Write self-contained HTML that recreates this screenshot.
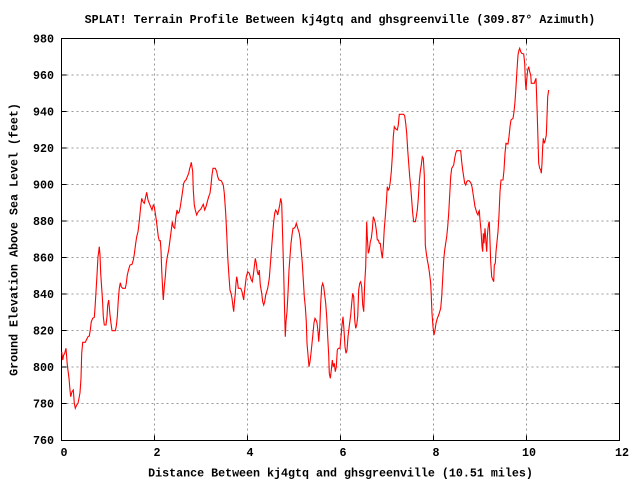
<!DOCTYPE html>
<html><head><meta charset="utf-8"><style>
html,body{margin:0;padding:0;background:#fff;}
svg{display:block;}
text{font-family:"Liberation Mono",monospace;font-weight:bold;font-size:11.67px;fill:#000;}
</style></head><body>
<svg width="640" height="480" viewBox="0 0 640 480" xmlns="http://www.w3.org/2000/svg">
<rect width="640" height="480" fill="#fff"/>
<g stroke="#999" stroke-width="1" stroke-dasharray="2,3" shape-rendering="crispEdges">
<line x1="61.5" y1="75" x2="619.5" y2="75"/>
<line x1="61.5" y1="111.5" x2="619.5" y2="111.5"/>
<line x1="61.5" y1="148" x2="619.5" y2="148"/>
<line x1="61.5" y1="184.5" x2="619.5" y2="184.5"/>
<line x1="61.5" y1="221" x2="619.5" y2="221"/>
<line x1="61.5" y1="257.5" x2="619.5" y2="257.5"/>
<line x1="61.5" y1="294" x2="619.5" y2="294"/>
<line x1="61.5" y1="330.5" x2="619.5" y2="330.5"/>
<line x1="61.5" y1="367" x2="619.5" y2="367"/>
<line x1="61.5" y1="403.5" x2="619.5" y2="403.5"/>
<line x1="154.5" y1="38.5" x2="154.5" y2="440.5"/>
<line x1="247.5" y1="38.5" x2="247.5" y2="440.5"/>
<line x1="340.5" y1="38.5" x2="340.5" y2="440.5"/>
<line x1="433.5" y1="38.5" x2="433.5" y2="440.5"/>
<line x1="526.5" y1="38.5" x2="526.5" y2="440.5"/>
</g>
<g stroke="#000" stroke-width="1" shape-rendering="crispEdges">
<path d="M61.5 75h5M61.5 111.5h5M61.5 148h5M61.5 184.5h5M61.5 221h5M61.5 257.5h5M61.5 294h5M61.5 330.5h5M61.5 367h5M61.5 403.5h5"/>
<path d="M619.5 75h-5M619.5 111.5h-5M619.5 148h-5M619.5 184.5h-5M619.5 221h-5M619.5 257.5h-5M619.5 294h-5M619.5 330.5h-5M619.5 367h-5M619.5 403.5h-5"/>
<path d="M154.5 38.5v5M247.5 38.5v5M340.5 38.5v5M433.5 38.5v5M526.5 38.5v5"/>
<path d="M154.5 440.5v-5M247.5 440.5v-5M340.5 440.5v-5M433.5 440.5v-5M526.5 440.5v-5"/>
<rect x="61.5" y="38.5" width="558" height="402" fill="none"/>
</g>
<polyline fill="none" stroke="#ff0000" stroke-width="1.1" stroke-linejoin="miter" points="
61.7,351.7 62.7,360 63.7,355 64.7,353.3 66,348.3 67.3,365 69,378.3 70,390 70.7,396.7 72,391.7 73.3,390 74.3,403.3 75.3,408.3 76.7,405 78,403.3 79,398.3 80,392.7 81,378.3 81.7,353.3 82.7,342.3 85.3,342.3 86.7,339.3 88,336.7 89.3,336 90.3,330 91.3,321.7 92.7,318.3 94.3,317.3 95,308.3 96,291.7 97,275 98,256.7 98.7,251.7 99.3,246.7 100,255 100.7,273.3 101.7,288.3 102.7,303.3 103.3,316.7 104.3,325 106,325 107,316.7 107.7,305 108.7,300 110,315 111,323.3 112,330.7 115.3,330.7 116.3,326 117.3,316.7 118.3,300 119.3,288.3 120.3,282.7 121.3,286.7 122.7,288.3 125.3,288.3 126.3,283.3 127.3,275 128.7,269.3 130,265 132,264.3 133.3,260 134.3,254.3 135.7,243.3 136.7,236.7 138,231.7 139.3,221 140.7,206.7 141.7,198.3 143,201.7 144.3,203.3 145.7,196.7 146.7,192.3 148,200 149.3,203.3 150.7,206.7 152,210 153.3,205 154.3,206.7 155.3,213.3 156.3,220 157.3,228.3 158.3,236.7 159.3,240.7 160.3,240.7 161,250 161.7,270 162.7,290 163.3,300 164.3,286.7 165.3,276.7 166.3,263.3 167.3,256.7 168.7,250 170,240 171.3,230 172.3,221.7 173.3,226.7 174.7,228.3 175.7,218.3 177,210 178,213.3 179.3,211.7 180.3,206.7 181.3,200 182.3,193.3 183.7,183.3 185,180.7 186,180 187.3,176.7 188.7,173.3 189.7,168.3 190.3,166.7 191.3,162.3 192.7,171.7 193.3,190 194.3,205 195.3,210 196.7,215 197.7,212.7 199,210.7 200.7,209.3 202,206.7 203.3,204.3 204.7,210 206,206.7 207.3,201.7 208.7,196.7 210,193.3 211,185 212,175 213,168.3 215.3,168.3 216.7,171.7 217.7,176.7 219,180 221.3,180.7 223.3,185 224.3,193.3 225.7,213.3 226.7,233.3 227.7,256.7 229,276.7 230,290 231,293.3 232,298.3 233,306.7 233.7,311.7 234.3,303.3 235.3,293.3 236,283.3 236.7,276.7 237.3,280 238.3,288.3 240.7,288.3 242,291.7 243,296.7 243.7,300 244.3,293.3 245.3,285 246.3,276.7 247.7,271.7 249.3,273.3
250.3,276.7 251.3,280 252.3,281.7 253.3,275 254.3,266.7 255.3,258.3 256.3,263.3 257.3,271.7 258.3,275 259.3,270 260.3,285 261.7,293.3 262.7,301.7 263.7,305 264.7,301.7 265.7,295 266.7,291.7 267.7,288.3 269.3,278.3 270.7,260 271.7,246.7 272.7,233.3 273.7,221.7 274.7,213.3 275.7,210 276.7,211.7 277.7,215 278.7,210 279.7,205 280.7,198.3 281.7,203.3 282.7,238.3 283.7,273.3 284.7,315 285.3,336.7 286,321.7 287,311.7 288,293.3 289,270 290,256.7 291,243.3 292,235 293,228.3 294,228.3 295.3,226.7 296.3,223.3 297.3,226.7 298.3,230 299.3,233.3 300.3,240 301.3,251.7 302.3,263.3 303.3,280 304.3,296.7 305.3,306.7 306.3,321.7 307,343.3 308,355 309,366.7 310,361.7 311,353.3 312,343.3 313,333.3 314,322.7 315,318.3 316,320 317,322.7 318,331.7 318.7,341.7 319.7,328.3 320.7,303.3 321.7,286.7 322.7,283.3 323.7,286.7 324.7,295 325.7,303.3 326.7,316.7 327.7,336.7 328.7,355 329.3,373.3 330.3,378.3 331.3,370 332.3,360 333.3,366.7 334.3,363.3 335.3,371.7 336.3,366.7 337.3,350 338.3,348.3 340,348.3 341,336.7 342,325 343,316.7 344,330 345,346.7 346,353.3 347,350 348,336.7 349,328.3 350.7,315 351.7,303.3 352.7,293.3 353.7,296.7 354.7,320 355.7,328.3 356.7,325 357.7,316.7 358.7,290 359.7,283.3 360.7,281.7 361.7,286.7 362.7,305 363.7,311.7 364.7,283.3 365.7,266.7 366.7,221.7 367.3,236.7 368.3,253.3 369.3,250 370.3,241.7 371.3,238.3 372.3,230 373.3,216.7 374.3,219.3 375.3,223.3 376.3,230 377.3,240 378.3,240 379.3,243.3 380.3,243.3 381.3,251.7 382.3,258.3 383.3,246.7 384.3,228.3 385.3,216.7 386.3,203.3 387.3,186.7 388.3,190 389.3,188.3 390.3,181.7 391.3,171.7 392.3,156.7 393.3,136.7 394.3,126.7 395.3,128.3 396.3,129.3 397.3,130 398.3,125 399.3,114.3 403.7,114.3 404.7,116 405.7,123.3 406.7,133.3 407.7,150 408.7,163.3 409.7,176.7 410.7,186.7 411.7,200 412.7,213.3 413.7,221.7 415.3,221.7 416.3,216.7 417.3,210 418.3,198.3 419.3,181.7 420.3,171.7 421.3,165 422.3,156.7 423.3,158.3 424.3,175 425.3,245 426.3,253.3 427.3,260 428.3,265 429.3,271.7
430.7,283.3 431.3,296.7 432,313.3 433,326.7 434,335 435,330 436,323.3 437.3,318.3 438.7,315 439.7,311.7 440.7,308.3 441.7,296.7 442.7,278.3 443.7,260 444.7,250 445.7,243.3 446.7,236.7 447.7,226.7 448.7,213.3 449.7,195 450.7,176.7 451.7,168.3 452.7,166.7 453.7,165 454.7,158.3 455.7,153.3 456.7,150.7 460.7,150.7 461.7,161.7 462.7,170 463.7,176.7 464.7,183.3 465.7,185 466.7,181.7 467.7,180.7 469,180.7 470,181.7 471,183.3 472,186.7 473,193.3 474,200 475,206.7 476,210 477,213.3 478,215 478.7,211.7 479.3,210.7 480,220 481,230 482,246.7 482.7,251.7 483.3,233.3 484,243.3 485,228.3 486,243.3 486.7,251.7 487.3,236.7 488,228.3 488.7,223.3 489.3,221.7 490,241.7 490.7,261.7 491.7,276.7 492.3,278.3 493,280 493.7,281.7 494.3,265 495.3,263.3 496,251.7 497,241.7 498,231.7 499,215 500,191.7 501,180 503,180 504,170 505,153.3 506,143.3 508,144 509,136.7 510,126.7 511,120 513,118.3 514,111.7 515,101.7 516,86.7 517,70 518,55 519,50 519.7,48.3 520.7,51.7 521.7,53.3 523.7,54 524.7,63.3 525.3,80 526,90 526.7,80 527.7,70 528.7,66.7 529.7,71.7 530.7,75 531.3,83.3 534.3,83.3 535.3,80 536,78.3 536.7,98.3 537.3,116.7 538,140 538.7,163.3 539.7,168.3 540.7,170 541.3,173.3 542,163.3 542.7,146.7 543.3,138.3 544.3,143.3 545.3,140 546.3,135 547,116.7 547.7,96.7 548.7,90"/>
<text x="340" y="23" text-anchor="middle">SPLAT! Terrain Profile Between kj4gtq and ghsgreenville (309.87° Azimuth)</text>
<g text-anchor="end">
<text x="54" y="42.5">980</text>
<text x="54" y="79">960</text>
<text x="54" y="115.5">940</text>
<text x="54" y="152">920</text>
<text x="54" y="188.5">900</text>
<text x="54" y="225">880</text>
<text x="54" y="261.5">860</text>
<text x="54" y="298">840</text>
<text x="54" y="334.5">820</text>
<text x="54" y="371">800</text>
<text x="54" y="407.5">780</text>
<text x="54" y="444">760</text>
</g>
<g text-anchor="middle">
<text x="64" y="456">0</text>
<text x="157" y="456">2</text>
<text x="250" y="456">4</text>
<text x="343" y="456">6</text>
<text x="436" y="456">8</text>
<text x="529" y="456">10</text>
<text x="622" y="456">12</text>
<text x="340.5" y="476.5">Distance Between kj4gtq and ghsgreenville (10.51 miles)</text>
<text x="0" y="0" transform="translate(17.5,239.5) rotate(-90)">Ground Elevation Above Sea Level (feet)</text>
</g>
</svg>
</body></html>
